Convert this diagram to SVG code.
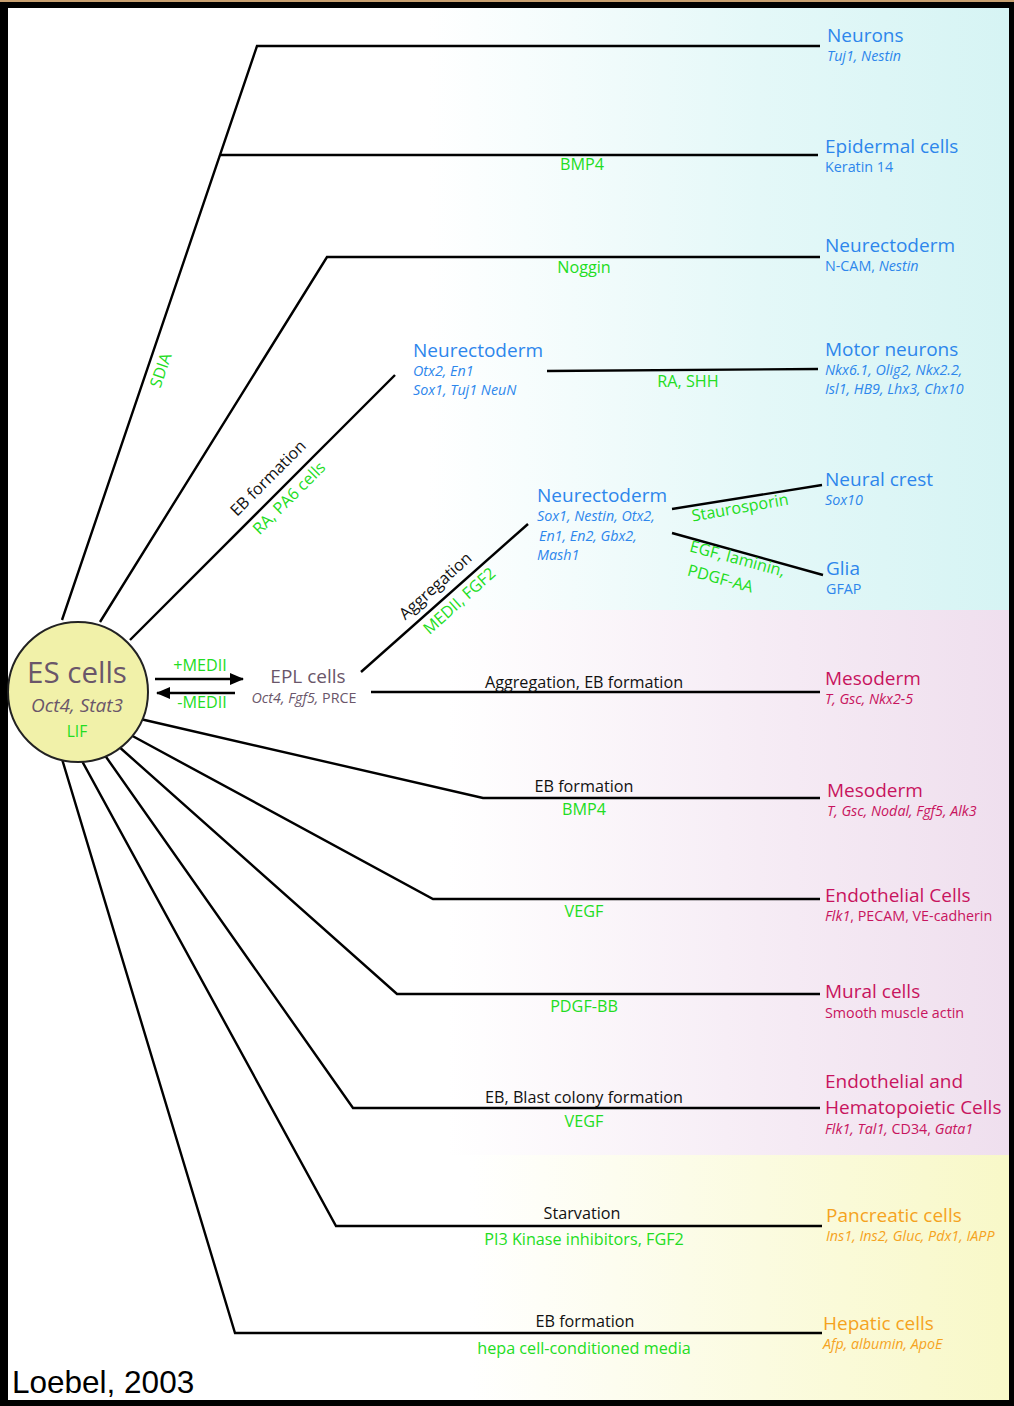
<svg xmlns="http://www.w3.org/2000/svg" width="1014" height="1406" viewBox="0 0 1014 1406">
<defs>
<linearGradient id="gCyan" x1="0" y1="0" x2="1" y2="0">
<stop offset="0" stop-color="#ffffff"/>
<stop offset="0.42" stop-color="#ffffff"/>
<stop offset="0.75" stop-color="#e4f8f8"/>
<stop offset="1" stop-color="#d6f4f4"/>
</linearGradient>
<linearGradient id="gPink" x1="0" y1="0" x2="1" y2="0">
<stop offset="0" stop-color="#ffffff"/>
<stop offset="0.44" stop-color="#ffffff"/>
<stop offset="0.75" stop-color="#f6ecf5"/>
<stop offset="1" stop-color="#efdfee"/>
</linearGradient>
<linearGradient id="gYel" x1="0" y1="0" x2="1" y2="0">
<stop offset="0" stop-color="#ffffff"/>
<stop offset="0.46" stop-color="#ffffff"/>
<stop offset="0.75" stop-color="#fbfbe0"/>
<stop offset="1" stop-color="#f8f8c8"/>
</linearGradient>
<marker id="ah" viewBox="0 0 14 12" refX="13" refY="6" markerWidth="14" markerHeight="12" orient="auto" markerUnits="userSpaceOnUse">
<path d="M0,0 L14,6 L0,12 z" fill="#000"/>
</marker>
</defs>
<style>
text{font-family:"Open Sans","Noto Sans","Liberation Sans",sans-serif}
.big{font-size:19px}
.sm{font-size:14.3px}
.lb{font-size:16.2px}
.it{font-style:italic}
.blue{fill:#2d86ec}
.mag{fill:#c8145e}
.org{fill:#f5a31e}
.grn{fill:#22dd22}
.blk{fill:#111}
.pur{fill:#6a566a}
.mid{text-anchor:middle}
.ln{stroke:#000;stroke-width:2.4;fill:none;stroke-linejoin:miter}
</style>
<rect x="0" y="0" width="1014" height="1406" fill="#000"/>
<rect x="0" y="0" width="1014" height="2" fill="#c8a070"/>
<rect x="8" y="8" width="1001" height="602" fill="url(#gCyan)"/>
<rect x="8" y="610" width="1001" height="545" fill="url(#gPink)"/>
<rect x="8" y="1155" width="1001" height="245" fill="url(#gYel)"/>

<g id="connectors">
<polyline class="ln" points="62,620 257,46 820,46"/>
<polyline class="ln" points="220,155 818,155"/>
<polyline class="ln" points="100,622 327,257 820,257"/>
<polyline class="ln" points="130,640 395,375"/>
<polyline class="ln" points="547,371 818,369"/>
<line class="ln" x1="155" y1="679" x2="243" y2="679" marker-end="url(#ah)"/>
<line class="ln" x1="235" y1="693" x2="157" y2="693" marker-end="url(#ah)"/>
<polyline class="ln" points="361,672 528,524"/>
<polyline class="ln" points="672,509 822,485"/>
<polyline class="ln" points="672,533 823,575"/>
<polyline class="ln" points="371,692 820,692"/>
<polyline class="ln" points="136,718 483,798 820,798"/>
<polyline class="ln" points="127,733 433,899 820,899"/>
<polyline class="ln" points="117,745 397,994 820,994"/>
<polyline class="ln" points="104,754 353,1108 820,1108"/>
<polyline class="ln" points="82,761 336,1226 822,1226"/>
<polyline class="ln" points="62,759 235,1333 822,1333"/>
</g>

<g id="labels">
<text class="grn lb" transform="translate(166,372) rotate(-71)" text-anchor="middle">SDIA</text>
<text class="grn lb mid" x="582" y="170">BMP4</text>
<text class="grn lb mid" x="584" y="273">Noggin</text>
<text class="blk lb" transform="translate(272,482) rotate(-45)" text-anchor="middle">EB formation</text>
<text class="grn lb" transform="translate(293,502) rotate(-45)" text-anchor="middle">RA, PA6 cells</text>
<text class="grn lb mid" x="688" y="387">RA, SHH</text>
<text class="blk lb" transform="translate(439,590) rotate(-42)" text-anchor="middle">Aggregation</text>
<text class="grn lb" transform="translate(463,605) rotate(-42)" text-anchor="middle">MEDII, FGF2</text>
<text class="grn lb" transform="translate(741,513) rotate(-10)" text-anchor="middle">Staurosporin</text>
<text class="grn lb" transform="translate(736,564) rotate(15)" text-anchor="middle">EGF, laminin,</text>
<text class="grn lb" transform="translate(719,584) rotate(15)" text-anchor="middle">PDGF-AA</text>
<text class="grn lb mid" x="200" y="671">+MEDII</text>
<text class="grn lb mid" x="202" y="708">-MEDII</text>
<text class="blk lb mid" x="584" y="688">Aggregation, EB formation</text>
<text class="blk lb mid" x="584" y="792">EB formation</text>
<text class="grn lb mid" x="584" y="815">BMP4</text>
<text class="grn lb mid" x="584" y="917">VEGF</text>
<text class="grn lb mid" x="584" y="1012">PDGF-BB</text>
<text class="blk lb mid" x="584" y="1103">EB, Blast colony formation</text>
<text class="grn lb mid" x="584" y="1127">VEGF</text>
<text class="blk lb mid" x="582" y="1219">Starvation</text>
<text class="grn lb mid" x="584" y="1245">PI3 Kinase inhibitors, FGF2</text>
<text class="blk lb mid" x="585" y="1327">EB formation</text>
<text class="grn lb mid" x="584" y="1354">hepa cell-conditioned media</text>
</g>

<g id="es-cells">
<circle cx="78" cy="692" r="70" fill="#f1f1a9" stroke="#222" stroke-width="2"/>
<text class="pur mid" x="77" y="683" font-size="29.5">ES cells</text>
<text class="pur mid it" x="77" y="712" font-size="19">Oct4, Stat3</text>
<text class="grn mid" x="77" y="737" font-size="15.5">LIF</text>
</g>

<g id="epl-cells">
<text class="pur mid" x="308" y="683" font-size="19">EPL cells</text>
<text class="pur mid sm" x="304" y="703"><tspan class="it">Oct4, Fgf5,</tspan> PRCE</text>
</g>

<g id="neurons">
<text class="blue big" x="827" y="42">Neurons</text>
<text class="blue sm it" x="827" y="61">Tuj1, Nestin</text>
</g>
<g id="epidermal">
<text class="blue big" x="825" y="153">Epidermal cells</text>
<text class="blue sm" x="825" y="172">Keratin 14</text>
</g>
<g id="neurectoderm-a">
<text class="blue big" x="825" y="252">Neurectoderm</text>
<text class="blue sm" x="825" y="271">N-CAM, <tspan class="it">Nestin</tspan></text>
</g>
<g id="neurectoderm-b">
<text class="blue big" x="413" y="357">Neurectoderm</text>
<text class="blue sm it" x="413" y="376">Otx2, En1</text>
<text class="blue sm it" x="413" y="395">Sox1, Tuj1 NeuN</text>
</g>
<g id="motor-neurons">
<text class="blue big" x="825" y="356">Motor neurons</text>
<text class="blue sm it" x="825" y="375">Nkx6.1, Olig2, Nkx2.2,</text>
<text class="blue sm it" x="825" y="394">Isl1, HB9, Lhx3,  Chx10</text>
</g>
<g id="neurectoderm-c">
<text class="blue big" x="537" y="502">Neurectoderm</text>
<text class="blue sm it" x="537" y="521">Sox1, Nestin, Otx2,</text>
<text class="blue sm it" x="539" y="541">En1,  En2, Gbx2,</text>
<text class="blue sm it" x="537" y="560">Mash1</text>
</g>
<g id="neural-crest">
<text class="blue big" x="825" y="486">Neural crest</text>
<text class="blue sm it" x="825" y="505">Sox10</text>
</g>
<g id="glia">
<text class="blue big" x="826" y="575">Glia</text>
<text class="blue sm" x="826" y="594">GFAP</text>
</g>
<g id="mesoderm-a">
<text class="mag big" x="825" y="685">Mesoderm</text>
<text class="mag sm it" x="825" y="704">T, Gsc, Nkx2-5</text>
</g>
<g id="mesoderm-b">
<text class="mag big" x="827" y="797">Mesoderm</text>
<text class="mag sm it" x="827" y="816">T, Gsc, Nodal, Fgf5, Alk3</text>
</g>
<g id="endothelial">
<text class="mag big" x="825" y="902">Endothelial Cells</text>
<text class="mag sm" x="825" y="921"><tspan class="it">Flk1</tspan>, PECAM, VE-cadherin</text>
</g>
<g id="mural">
<text class="mag big" x="825" y="998">Mural cells</text>
<text class="mag sm" x="825" y="1018">Smooth muscle actin</text>
</g>
<g id="endo-hemato">
<text class="mag big" x="825" y="1088">Endothelial and</text>
<text class="mag big" x="825" y="1114">Hematopoietic Cells</text>
<text class="mag sm" x="825" y="1134"><tspan class="it">Flk1, Tal1,</tspan> CD34, <tspan class="it">Gata1</tspan></text>
</g>
<g id="pancreatic">
<text class="org big" x="826" y="1222">Pancreatic cells</text>
<text class="org sm it" x="826" y="1241">Ins1, Ins2, Gluc, Pdx1, IAPP</text>
</g>
<g id="hepatic">
<text class="org big" x="823" y="1330">Hepatic cells</text>
<text class="org sm it" x="823" y="1349">Afp, albumin, ApoE</text>
</g>
<text x="12" y="1393" font-size="31.5" fill="#000" style="font-family:'Liberation Sans',Arial,sans-serif">Loebel, 2003</text>
</svg>
